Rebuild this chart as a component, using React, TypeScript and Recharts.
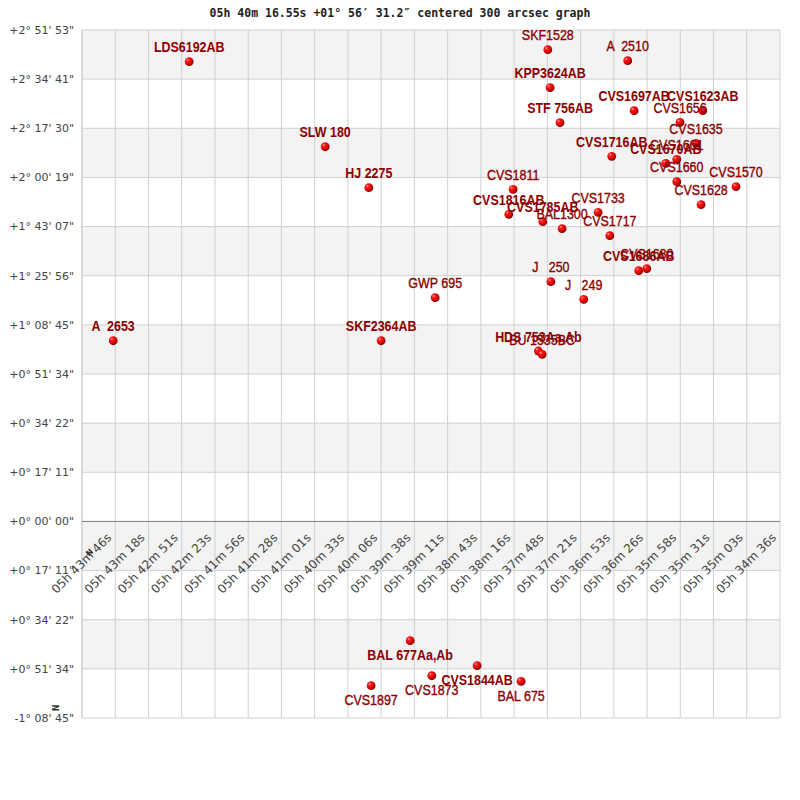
import React from 'react';
import { ScatterChart, Scatter, XAxis, YAxis, CartesianGrid, ReferenceLine } from 'recharts';

// ---- data (RA in seconds of time past 05h, Dec in arcsec) ----
const starNames = [
  'LDS6192AB', 'SLW 180', 'HJ 2275', 'SKF1528', 'A  2510', 'KPP3624AB', 'CVS1697AB', 'CVS1623AB',
  'STF 756AB', 'CVS1656', 'CVS1635', 'CVS1716AB', 'CVS1670AB', 'CVS1661', 'CVS1660', 'CVS1570',
  'CVS1628', 'CVS1811', 'CVS1816AB', 'CVS1785AB', 'BAL1300', 'CVS1733', 'CVS1717', 'CVS1686AB',
  'CVS1680', 'J   250', 'J   249', 'GWP 695', 'SKF2364AB', 'A  2653', 'HDS 753Aa,Ab', 'BU 1535BC',
  'BAL 677Aa,Ab', 'CVS1844AB', 'CVS1873', 'BAL 675', 'CVS1897',
];
const starRA = [
  2564.8, 2452.3, 2416.2, 2268.1, 2202.0, 2266.2, 2196.7, 2139.9,
  2258.0, 2158.7, 2145.5, 2215.2, 2170.5, 2161.4, 2161.4, 2112.4,
  2141.3, 2296.8, 2300.4, 2272.3, 2256.3, 2226.5, 2216.8, 2192.9,
  2186.2, 2265.6, 2238.4, 2361.3, 2406.0, 2627.7, 2275.9, 2272.8,
  2382.0, 2326.6, 2364.1, 2290.2, 2414.3,
];
const starDec = [
  9647, 7863, 7003, 9899, 9668, 9102, 8619, 8619,
  8367, 8375, 7935, 7662, 7515, 7599, 7129, 7024,
  6646, 6970, 6445, 6290, 6143, 6487, 5996, 5261,
  5303, 5031, 4661, 4695, 3792, 3792, 3576, 3507,
  -2503, -3028, -3238, -3355, -3447,
];
const starMeasured = [
  true, true, true, false, false, true, true, true,
  true, false, false, true, true, false, false, false,
  false, false, true, true, false, false, false, true,
  false, false, false, false, true, true, true, false,
  true, true, false, false, false,
];

const raTicks = [
  2626, 2598.5, 2571, 2543.5, 2516, 2488.5, 2461, 2433.5, 2406, 2378.5, 2351,
  2323.5, 2296, 2268.5, 2241, 2213.5, 2186, 2158.5, 2131, 2103.5, 2076,
];
const raTickLabels = [
  '05h 43m 46s', '05h 43m 18s', '05h 42m 51s', '05h 42m 23s', '05h 41m 56s', '05h 41m 28s',
  '05h 41m 01s', '05h 40m 33s', '05h 40m 06s', '05h 39m 38s', '05h 39m 11s', '05h 38m 43s',
  '05h 38m 16s', '05h 37m 48s', '05h 37m 21s', '05h 36m 53s', '05h 36m 26s', '05h 35m 58s',
  '05h 35m 31s', '05h 35m 03s', '05h 34m 36s',
];
const decTicks = [
  10312.5, 9281.25, 8250, 7218.75, 6187.5, 5156.25, 4125, 3093.75, 2062.5, 1031.25, 0,
  -1031.25, -2062.5, -3093.75, -4125,
];
const decTickLabels = [
  '+2° 51\' 53"', '+2° 34\' 41"', '+2° 17\' 30"', '+2° 00\' 19"', '+1° 43\' 07"', '+1° 25\' 56"',
  '+1° 08\' 45"', '+0° 51\' 34"', '+0° 34\' 22"', '+0° 17\' 11"', '+0° 00\' 00"', '+0° 17\' 11"',
  '+0° 34\' 22"', '+0° 51\' 34"', '-1° 08\' 45"',
];

const RA_DOMAIN: [number, number] = [2076, 2653.5];
const DEC_DOMAIN: [number, number] = [-4125, 10312.5];
const TITLE = '05h 40m 16.55s +01° 56′ 31.2″ centered 300 arcsec graph';

// ---- layout ----
const W = 792;
const H = 792;
const MARGIN = { top: 22, right: 20, bottom: 52, left: 0 };
const Y_AXIS_W = 74;
const X_AXIS_H = 30;
const PLOT_H = H - MARGIN.top - MARGIN.bottom - X_AXIS_H;
const ZERO_FROM_BOTTOM = (PLOT_H * (0 - DEC_DOMAIN[0])) / (DEC_DOMAIN[1] - DEC_DOMAIN[0]);
const PLOT_LEFT = MARGIN.left + Y_AXIS_W;
const PLOT_W = W - PLOT_LEFT - MARGIN.right;
const LABEL_SQUEEZE = 0.89;

const data = starNames.map((name, i) => ({
  name,
  ra: starRA[i],
  dec: starDec[i],
  measured: starMeasured[i],
}));

const XTick = (props: any) => {
  const { x, y, payload } = props;
  const idx = raTicks.indexOf(payload.value);
  const label = idx >= 0 ? raTickLabels[idx] : '';
  const tx = x - 3;
  const ty = y - ZERO_FROM_BOTTOM + 17;
  return (
    <text
      x={tx}
      y={ty}
      transform={`rotate(-45 ${tx} ${ty})`}
      textAnchor="end"
      fontSize={12}
      fontFamily="DejaVu Sans, sans-serif"
      fill="#444"
    >
      {label}
    </text>
  );
};

const StarShape = (props: any) => {
  const { cx, cy, payload } = props;
  if (cx == null || cy == null) return null;
  const below = payload.dec < 0;
  const ly = below ? cy + 19.5 : cy - 9.5;
  return (
    <g>
      <circle cx={cx} cy={cy} r={4.4} fill="url(#sphereGrad)" />
      <g clipPath="url(#plotClip)">
        <text
          transform={`translate(${cx} ${ly}) scale(${LABEL_SQUEEZE} 1)`}
          x={0}
          y={0}
          textAnchor="middle"
          fontFamily="Liberation Sans, Arial, sans-serif"
          fontSize={14}
          fontWeight={payload.measured ? 'bold' : 'normal'}
          fill="#8b0000"
          stroke={payload.measured ? 'none' : '#8b0000'}
          strokeWidth={0.35}
          style={{ whiteSpace: 'pre' }}
        >
          {payload.name}
        </text>
      </g>
    </g>
  );
};

export default function App() {
  return (
    <div style={{ position: 'relative', width: W, height: H }}>
      <svg width={0} height={0} style={{ position: 'absolute' }}>
        <defs>
          <radialGradient id="sphereGrad" cx="38%" cy="35%" r="65%" fx="32%" fy="30%">
            <stop offset="0%" stopColor="#ffb0b0" />
            <stop offset="25%" stopColor="#ff2020" />
            <stop offset="75%" stopColor="#d00000" />
            <stop offset="100%" stopColor="#7a0000" />
          </radialGradient>
          <clipPath id="plotClip" clipPathUnits="userSpaceOnUse">
            <rect x={PLOT_LEFT} y={MARGIN.top} width={PLOT_W} height={PLOT_H} />
          </clipPath>
        </defs>
      </svg>
      <ScatterChart width={W} height={H} margin={MARGIN}>
        <CartesianGrid
          stroke="#d0d0d0"
          horizontalFill={['#f3f3f3', '#ffffff']}
        />
        <XAxis
          type="number"
          dataKey="ra"
          domain={RA_DOMAIN}
          reversed
          ticks={raTicks}
          interval={0}
          allowDataOverflow
          axisLine={false}
          tickLine={false}
          tickSize={0}
          tickMargin={0}
          height={X_AXIS_H}
          tick={<XTick />}
        />
        <YAxis
          type="number"
          dataKey="dec"
          domain={DEC_DOMAIN}
          ticks={decTicks}
          interval={0}
          allowDataOverflow
          axisLine={false}
          tickLine={false}
          tickSize={0}
          tickMargin={8}
          width={Y_AXIS_W}
          tick={{ fontSize: 11, fill: '#444', fontFamily: 'DejaVu Sans, sans-serif' }}
          tickFormatter={(v: number) => {
            const i = decTicks.indexOf(v);
            return i >= 0 ? decTickLabels[i] : '';
          }}
        />
        <ReferenceLine x={RA_DOMAIN[1]} stroke="#d0d0d0" />
        <ReferenceLine y={0} stroke="#808080" />
        <Scatter data={data} isAnimationActive={false} shape={<StarShape />} />
      </ScatterChart>
      <div
        style={{
          position: 'absolute',
          left: 0,
          top: 0,
          width: 784,
          textAlign: 'center',
          fontFamily: 'DejaVu Sans Mono, monospace',
          fontWeight: 'bold',
          fontSize: 11.5,
          lineHeight: '11px',
          color: '#222',
          whiteSpace: 'pre',
        }}
      >
        {TITLE}
      </div>
      <div
        style={{
          position: 'absolute',
          left: 82,
          top: 545,
          transform: 'translate(-50%, -50%) rotate(-45deg)',
          fontFamily: 'DejaVu Sans, sans-serif',
          fontWeight: 'bold',
          fontSize: 8,
          lineHeight: '8px',
          color: '#333',
        }}
      >
        N
      </div>
      <div
        style={{
          position: 'absolute',
          left: 49,
          top: 700,
          transform: 'translate(-50%, -50%) rotate(-90deg)',
          fontFamily: 'DejaVu Sans, sans-serif',
          fontWeight: 'bold',
          fontSize: 8,
          lineHeight: '8px',
          color: '#333',
        }}
      >
        N
      </div>
    </div>
  );
}
